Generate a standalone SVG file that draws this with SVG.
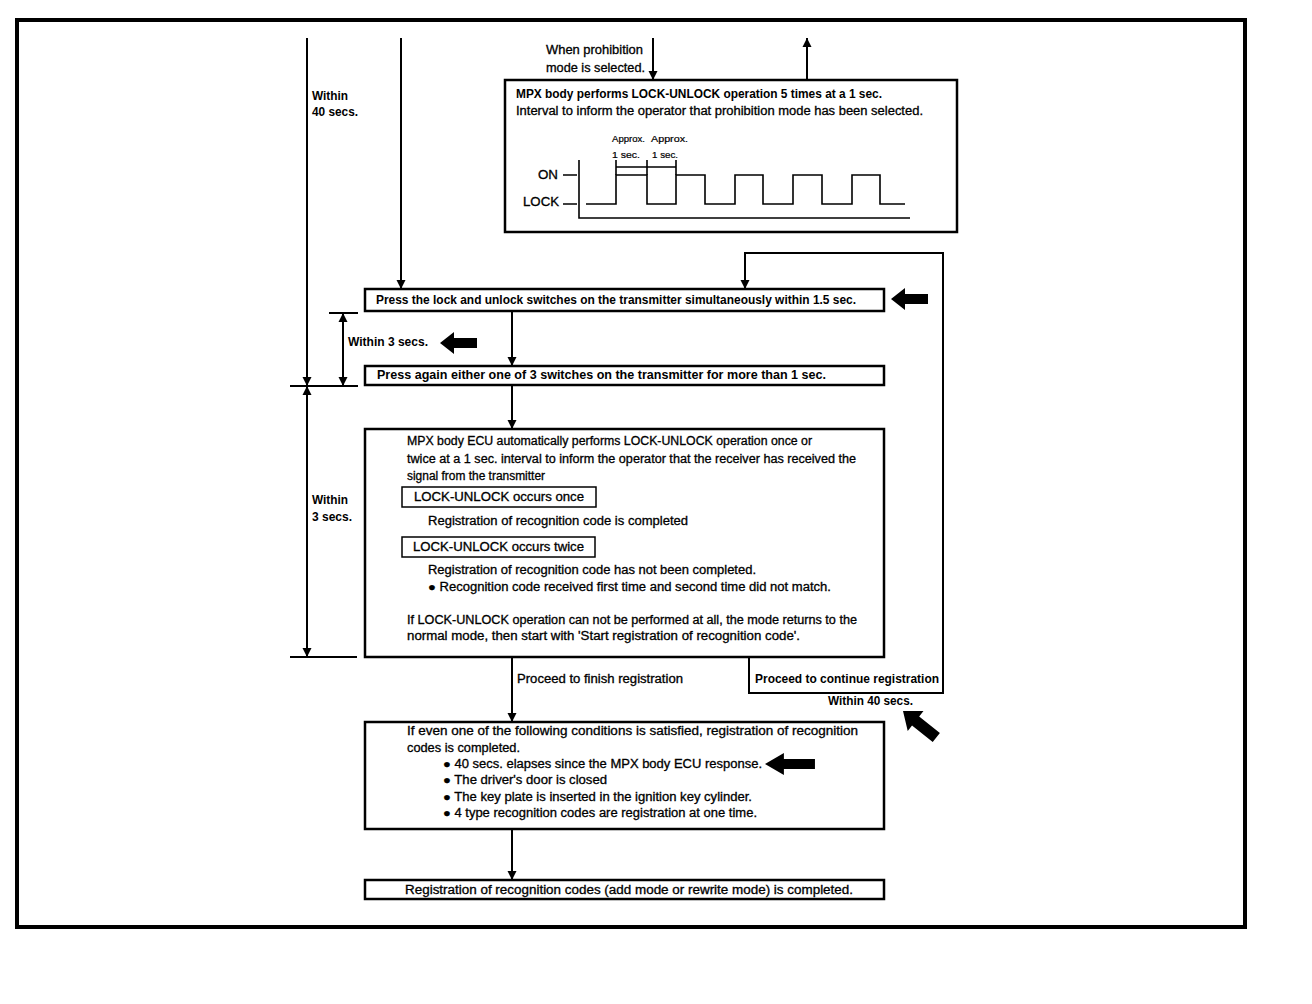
<svg xmlns="http://www.w3.org/2000/svg" width="1312" height="1004" viewBox="0 0 1312 1004">
<style>
text{lengthAdjust:spacingAndGlyphs}
.t{font-family:"Liberation Sans",Arial,sans-serif;font-size:12px;fill:#000;stroke:#000;stroke-width:0.3}
.b{font-weight:bold;stroke-width:0}
.s{font-family:"Liberation Sans",Arial,sans-serif;font-size:9px;fill:#000;stroke:#000;stroke-width:0.2}
.box{fill:#fff;stroke:#000;stroke-width:2.5}
.sb{fill:#fff;stroke:#000;stroke-width:1.5}
.ln{fill:none;stroke:#000;stroke-width:2}
.th{fill:none;stroke:#000;stroke-width:1.6}
</style>
<defs>
<marker id="ah" viewBox="0 0 10 10" refX="10" refY="5" markerWidth="4.5" markerHeight="5" orient="auto-start-reverse" markerUnits="strokeWidth">
<path d="M0,0 L10,5 L0,10 Z" fill="#000"/>
</marker>
<path id="fat" d="M0,0 L14,-11 L14,-5 L37,-5 L37,5 L14,5 L14,11 Z" fill="#000"/>
</defs>
<rect x="0" y="0" width="1312" height="1004" fill="#fff"/>
<rect x="17" y="20" width="1228" height="907" fill="none" stroke="#000" stroke-width="4"/>

<g id="connectors">
<path class="ln" d="M307,38 V386" marker-end="url(#ah)"/>
<path class="ln" d="M343,313 V386" marker-start="url(#ah)" marker-end="url(#ah)"/>
<path class="ln" d="M307,386 V657" marker-start="url(#ah)" marker-end="url(#ah)"/>
<path class="ln" d="M329,313 H358 M290,386 H358 M290,657 H357"/>
<path class="ln" d="M401,38 V289" marker-end="url(#ah)"/>
<path class="ln" d="M653,38 V80" marker-end="url(#ah)"/>
<path class="ln" d="M807,80 V38" marker-end="url(#ah)"/>
<path class="ln" d="M512,311 V366" marker-end="url(#ah)"/>
<path class="ln" d="M512,385 V429" marker-end="url(#ah)"/>
<path class="ln" d="M749,657 V693 H943 V253 H745 V289" marker-end="url(#ah)"/>
<path class="ln" d="M512,657 V722" marker-end="url(#ah)"/>
<path class="ln" d="M512,829 V880" marker-end="url(#ah)"/>
</g>

<g id="labels">
<text class="t b" x="312" y="100" textLength="36" lengthAdjust="spacingAndGlyphs">Within</text>
<text class="t b" x="312" y="116" textLength="46" lengthAdjust="spacingAndGlyphs">40 secs.</text>
<text class="t" x="546" y="54" textLength="97" lengthAdjust="spacingAndGlyphs">When prohibition</text>
<text class="t" x="546" y="72" textLength="99" lengthAdjust="spacingAndGlyphs">mode is selected.</text>
<text class="t b" x="348" y="346" textLength="80" lengthAdjust="spacingAndGlyphs">Within 3 secs.</text>
<text class="t b" x="312" y="504" textLength="36" lengthAdjust="spacingAndGlyphs">Within</text>
<text class="t b" x="312" y="521" textLength="40" lengthAdjust="spacingAndGlyphs">3 secs.</text>
<text class="t" x="517" y="683" textLength="166" lengthAdjust="spacingAndGlyphs">Proceed to finish registration</text>
<text class="t b" x="755" y="683" textLength="184" lengthAdjust="spacingAndGlyphs">Proceed to continue registration</text>
<text class="t b" x="828" y="705" textLength="85" lengthAdjust="spacingAndGlyphs">Within 40 secs.</text>
</g>

<g id="prohibition">
<rect class="box" x="505" y="80" width="452" height="152"/>
<text class="t b" x="516" y="98" textLength="366" lengthAdjust="spacingAndGlyphs">MPX body performs LOCK-UNLOCK operation 5 times at a 1 sec.</text>
<text class="t" x="516" y="115" textLength="407" lengthAdjust="spacingAndGlyphs">Interval to inform the operator that prohibition mode has been selected.</text>
<text class="s" x="612" y="142" textLength="33" lengthAdjust="spacingAndGlyphs">Approx.</text>
<text class="s" x="651" y="142" textLength="37" lengthAdjust="spacingAndGlyphs">Approx.</text>
<text class="s" x="612" y="158" textLength="28" lengthAdjust="spacingAndGlyphs">1 sec.</text>
<text class="s" x="652" y="158" textLength="26" lengthAdjust="spacingAndGlyphs">1 sec.</text>
<text class="t" x="538" y="179" textLength="20" lengthAdjust="spacingAndGlyphs">ON</text>
<text class="t" x="523" y="206" textLength="36" lengthAdjust="spacingAndGlyphs">LOCK</text>
<path class="th" d="M563,175 H577 M563,204 H577"/>
<path class="th" d="M579,160 V218 H910"/>
<path class="th" d="M616,160 V175 M647,160 V175 M676,160 V175 M616,167 H676"/>
<path class="th" d="M586,204 H616 V175 H647 V204 H676 V175 H705 V204 H735 V175 H763 V204 H793 V175 H822 V204 H852 V175 H880 V204 H905"/>
</g>

<g id="press1">
<rect class="box" x="365" y="289" width="519" height="22"/>
<text class="t b" x="376" y="304" textLength="480" lengthAdjust="spacingAndGlyphs">Press the lock and unlock switches on the transmitter simultaneously within 1.5 sec.</text>
</g>
<use href="#fat" x="891" y="299"/>
<use href="#fat" x="440" y="343"/>

<g id="press2">
<rect class="box" x="365" y="366" width="519" height="19"/>
<text class="t b" x="377" y="379" textLength="449" lengthAdjust="spacingAndGlyphs">Press again either one of 3 switches on the transmitter for more than 1 sec.</text>
</g>

<g id="ecu">
<rect class="box" x="365" y="429" width="519" height="228"/>
<text class="t" x="407" y="445" textLength="405" lengthAdjust="spacingAndGlyphs">MPX body ECU automatically performs LOCK-UNLOCK operation once or</text>
<text class="t" x="407" y="463" textLength="449" lengthAdjust="spacingAndGlyphs">twice at a 1 sec. interval to inform the operator that the receiver has received the</text>
<text class="t" x="407" y="480" textLength="138" lengthAdjust="spacingAndGlyphs">signal from the transmitter</text>
<rect class="sb" x="402" y="487" width="194" height="20"/>
<text class="t" x="414" y="501" textLength="170" lengthAdjust="spacingAndGlyphs">LOCK-UNLOCK occurs once</text>
<text class="t" x="428" y="525" textLength="260" lengthAdjust="spacingAndGlyphs">Registration of recognition code is completed</text>
<rect class="sb" x="402" y="537" width="193" height="20"/>
<text class="t" x="413" y="551" textLength="171" lengthAdjust="spacingAndGlyphs">LOCK-UNLOCK occurs twice</text>
<text class="t" x="428" y="574" textLength="328" lengthAdjust="spacingAndGlyphs">Registration of recognition code has not been completed.</text>
<text class="t" x="428" y="591" textLength="403" lengthAdjust="spacingAndGlyphs">● Recognition code received first time and second time did not match.</text>
<text class="t" x="407" y="624" textLength="450" lengthAdjust="spacingAndGlyphs">If LOCK-UNLOCK operation can not be performed at all, the mode returns to the</text>
<text class="t" x="407" y="640" textLength="393" lengthAdjust="spacingAndGlyphs">normal mode, then start with 'Start registration of recognition code'.</text>
</g>

<g id="conditions">
<rect class="box" x="365" y="722" width="519" height="107"/>
<text class="t" x="407" y="735" textLength="451" lengthAdjust="spacingAndGlyphs">If even one of the following conditions is satisfied, registration of recognition</text>
<text class="t" x="407" y="752" textLength="113" lengthAdjust="spacingAndGlyphs">codes is completed.</text>
<text class="t" x="443" y="768" textLength="319" lengthAdjust="spacingAndGlyphs">● 40 secs. elapses since the MPX body ECU response.</text>
<text class="t" x="443" y="784" textLength="164" lengthAdjust="spacingAndGlyphs">● The driver's door is closed</text>
<text class="t" x="443" y="801" textLength="309" lengthAdjust="spacingAndGlyphs">● The key plate is inserted in the ignition key cylinder.</text>
<text class="t" x="443" y="817" textLength="314" lengthAdjust="spacingAndGlyphs">● 4 type recognition codes are registration at one time.</text>
</g>
<use href="#fat" transform="translate(765,764) scale(1.35,1)"/>
<use href="#fat" transform="translate(903,711) rotate(38.5) scale(1.15)"/>

<g id="completed">
<rect class="box" x="365" y="880" width="519" height="19"/>
<text class="t" x="405" y="894" textLength="448" lengthAdjust="spacingAndGlyphs">Registration of recognition codes (add mode or rewrite mode) is completed.</text>
</g>
</svg>
